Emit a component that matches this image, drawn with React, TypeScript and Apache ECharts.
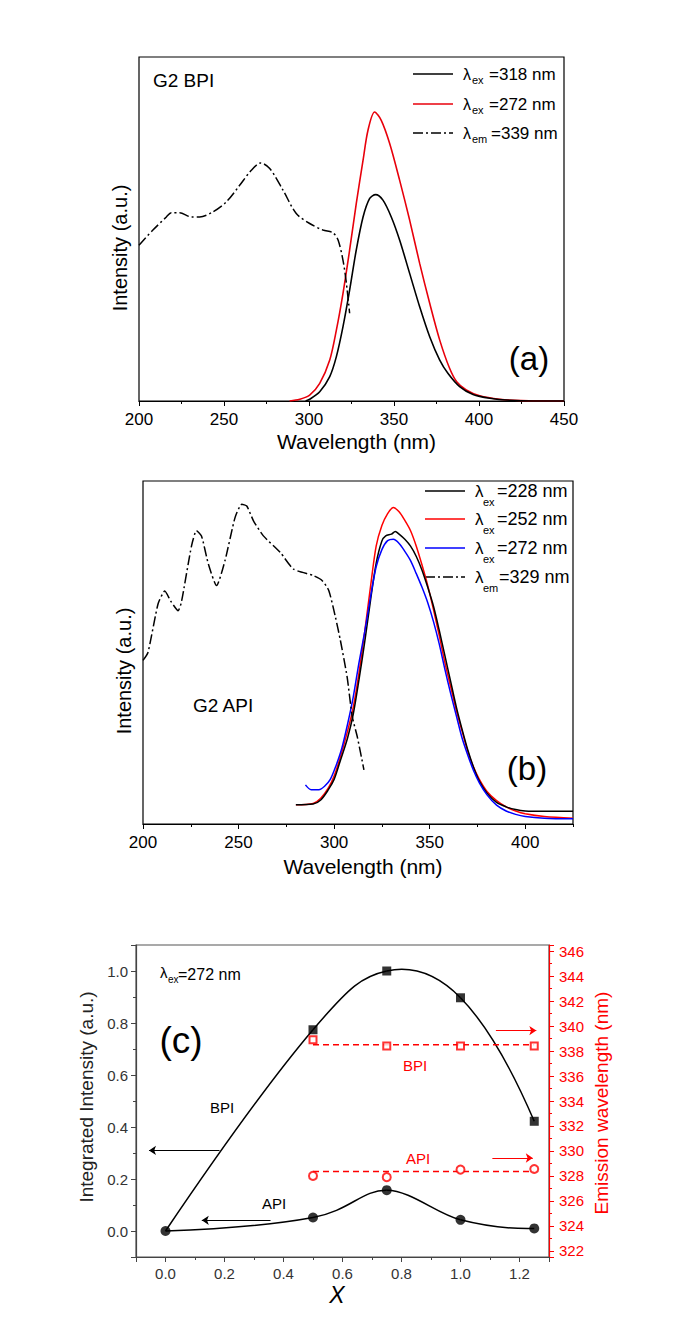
import React, { useEffect, useRef } from "react";
import * as echarts from "echarts";

const FONT = '"Liberation Sans", Arial, Helvetica, sans-serif';

// ---------- Panel (a): G2 BPI ----------
const A_WL_EX318 = [298, 300.4, 306.3, 312.2, 316.1, 320, 323.9, 327.8, 331.8, 335.7, 339.2, 343.5, 348.4, 353.3, 359.2, 365.1, 371, 376.9, 381.8, 388.6, 396.5, 406.3, 418, 431.8, 450];
const A_I_EX318 = [0, 0.005, 0.027, 0.071, 0.129, 0.216, 0.322, 0.439, 0.535, 0.589, 0.6, 0.584, 0.535, 0.468, 0.371, 0.274, 0.187, 0.119, 0.08, 0.042, 0.019, 0.008, 0.002, 0, 0];
const A_WL_EX272 = [288.6, 294.5, 300.4, 306.3, 312.2, 316.1, 320, 323.9, 327.8, 331.8, 334.7, 338.6, 342.5, 347.5, 353.3, 359.2, 365.1, 371, 376.9, 382.7, 387, 392.5, 400.4, 412.2, 425, 450];
const A_I_EX272 = [0, 0.005, 0.017, 0.051, 0.119, 0.206, 0.313, 0.439, 0.574, 0.7, 0.787, 0.84, 0.816, 0.748, 0.642, 0.526, 0.4, 0.284, 0.177, 0.095, 0.055, 0.032, 0.015, 0.005, 0.001, 0];
const A_WL_EM339 = [200, 208.2, 216.1, 219, 223.9, 230.8, 235.7, 243.5, 251.4, 259.2, 266.1, 271.6, 276.9, 284.7, 292.5, 300.4, 308.2, 314.1, 317.1, 320, 322, 323.9];
const A_I_EM339 = [0.453, 0.497, 0.535, 0.547, 0.547, 0.535, 0.535, 0.55, 0.579, 0.627, 0.671, 0.692, 0.676, 0.613, 0.545, 0.516, 0.497, 0.489, 0.468, 0.409, 0.342, 0.255];
const A_TICKS = [200, 250, 300, 350, 400, 450];

// ---------- Panel (b): G2 API ----------
const B_WL_EX228 = [280, 289, 293, 297, 300, 303, 307, 310, 313, 316, 319, 322, 325, 327, 330, 332, 334, 337, 340, 343, 346, 349, 352, 355, 358, 361, 364, 367, 370, 373, 376, 380, 385, 390, 395, 400, 410, 425];
const B_I_EX228 = [0.056, 0.058, 0.07, 0.1, 0.13, 0.18, 0.25, 0.32, 0.42, 0.53, 0.65, 0.76, 0.825, 0.84, 0.845, 0.853, 0.845, 0.83, 0.81, 0.78, 0.74, 0.69, 0.635, 0.565, 0.49, 0.415, 0.34, 0.275, 0.215, 0.165, 0.125, 0.09, 0.063, 0.05, 0.042, 0.038, 0.037, 0.037];
const B_WL_EX252 = [280, 289, 293, 297, 300, 303, 307, 310, 313, 316, 319, 322, 325, 328, 331, 334, 337, 340, 343, 346, 349, 352, 355, 358, 361, 364, 367, 370, 373, 376, 380, 385, 390, 395, 400, 410, 425];
const B_I_EX252 = [0.056, 0.06, 0.075, 0.105, 0.14, 0.19, 0.27, 0.34, 0.44, 0.56, 0.69, 0.81, 0.87, 0.905, 0.923, 0.91, 0.885, 0.855, 0.81, 0.755, 0.695, 0.625, 0.55, 0.47, 0.4, 0.33, 0.27, 0.21, 0.165, 0.13, 0.095, 0.068, 0.05, 0.038, 0.03, 0.022, 0.017];
const B_WL_EX272 = [285, 288, 292, 295, 298, 301, 304, 307, 310, 313, 316, 319, 322, 325, 328, 331, 334, 337, 340, 343, 346, 349, 352, 355, 358, 361, 364, 367, 370, 373, 376, 380, 385, 390, 395, 400, 410, 425];
const B_I_EX272 = [0.114, 0.1, 0.1, 0.11, 0.13, 0.17, 0.22, 0.29, 0.37, 0.47, 0.56, 0.66, 0.75, 0.8, 0.826, 0.83, 0.818, 0.795, 0.768, 0.73, 0.69, 0.645, 0.59, 0.525, 0.45, 0.38, 0.315, 0.25, 0.2, 0.155, 0.12, 0.085, 0.055, 0.038, 0.028, 0.022, 0.017, 0.015];
const B_WL_EM329 = [200, 202.6, 207.9, 211.4, 214.5, 218.4, 220.1, 225.4, 228, 230.6, 234.2, 238.5, 242.9, 248.2, 251.7, 254.3, 257.8, 263, 271.8, 278.8, 289.3, 293.7, 297.2, 300.7, 303.3, 306.8, 309.5, 312.1, 315.6];
const B_I_EM329 = [0.477, 0.5, 0.642, 0.679, 0.65, 0.622, 0.647, 0.811, 0.855, 0.84, 0.758, 0.695, 0.768, 0.894, 0.932, 0.927, 0.884, 0.84, 0.792, 0.743, 0.724, 0.71, 0.681, 0.603, 0.535, 0.429, 0.313, 0.255, 0.158];

// ---------- Panel (c) ----------
const C_X = [0, 0.5, 0.75, 1.0, 1.25];
const C_BPI_INT = [0, 0.774, 1.0, 0.897, 0.422];
const C_API_INT = [0, 0.052, 0.157, 0.043, 0.01];
const C_X_EM = [0.5, 0.75, 1.0, 1.25];
const C_BPI_EM = [338.9, 338.4, 338.4, 338.4];
const C_API_EM = [328.0, 327.9, 328.5, 328.55];
const C_FIT_X = [0.5, 1.25];
const C_BPI_FIT = [338.5, 338.5];
const C_API_FIT = [328.36, 328.36];
const C_ARROW_LEFT = [
  [[0.183, 0.31], [-0.056, 0.31]],
  [[0.356, 0.041], [0.123, 0.041]],
];
const C_ARROW_RIGHT = [
  [[1.12, 339.64], [1.257, 339.64]],
  [[1.108, 329.43], [1.245, 329.43]],
];

const zip = (xs: number[], ys: number[]) => xs.map((x, i) => [x, ys[i]]);

const DASHDOT = [10, 3, 2, 3];

// Cardinal spline (parabolic end conditions) drawn through the data points, in pixel space via the axes
function splineRender(xs: number[], ys: number[]) {
  return (params: any, api: any) => {
    const i = params.dataIndex;
    const n = xs.length;
    if (i >= n - 1) return { type: "group", children: [] };
    const pts = xs.map((x, k) => api.coord([x, ys[k]]));
    const inner = (k: number) => [(pts[k + 1][0] - pts[k - 1][0]) / 2, (pts[k + 1][1] - pts[k - 1][1]) / 2];
    const tan = (k: number): number[] => {
      if (k > 0 && k < n - 1) return inner(k);
      if (k === 0) {
        const t = n > 2 ? inner(1) : [pts[1][0] - pts[0][0], pts[1][1] - pts[0][1]];
        return [2 * (pts[1][0] - pts[0][0]) - t[0], 2 * (pts[1][1] - pts[0][1]) - t[1]];
      }
      const t = n > 2 ? inner(n - 2) : [pts[n - 1][0] - pts[n - 2][0], pts[n - 1][1] - pts[n - 2][1]];
      return [2 * (pts[n - 1][0] - pts[n - 2][0]) - t[0], 2 * (pts[n - 1][1] - pts[n - 2][1]) - t[1]];
    };
    const p1 = pts[i], p2 = pts[i + 1];
    const t1 = tan(i), t2 = tan(i + 1);
    return {
      type: "bezierCurve",
      shape: {
        x1: p1[0], y1: p1[1], x2: p2[0], y2: p2[1],
        cpx1: p1[0] + t1[0] / 3, cpy1: p1[1] + t1[1] / 3,
        cpx2: p2[0] - t2[0] / 3, cpy2: p2[1] - t2[1] / 3,
      },
      style: { stroke: "#000", fill: null, lineWidth: 1.5 },
    };
  };
}

function legendItem(x: number, y: number, color: string, dash: any, sub: string, rest: string, fs: number, subDy: number, subX: number, restX: number) {
  return [
    { type: "line", shape: { x1: x, y1: y, x2: x + 40, y2: y }, style: { stroke: color, lineWidth: 1.6, lineDash: dash } },
    { type: "text", x: x + 50, y, style: { text: "λ", font: `${fs - 1}px ${FONT}`, fill: "#000", verticalAlign: "middle", align: "left" } },
    { type: "text", x: x + subX, y: y + subDy, style: { text: sub, font: `${Math.round(fs * 0.62)}px ${FONT}`, fill: "#000", verticalAlign: "middle", align: "left" } },
    { type: "text", x: x + restX, y, style: { text: rest, font: `${fs}px ${FONT}`, fill: "#000", verticalAlign: "middle", align: "left" } },
  ];
}

function txt(x: number, y: number, text: string, fs: number, opts: any = {}) {
  return {
    type: "text",
    x,
    y,
    rotation: opts.rotation || 0,
    style: {
      text,
      font: `${opts.italic ? "italic " : ""}${fs}px ${FONT}`,
      fill: opts.color || "#000",
      align: opts.align || "left",
      verticalAlign: "middle",
    },
  };
}

export default function App() {
  const ref = useRef<HTMLDivElement>(null);
  useEffect(() => {
    if (!ref.current) return;
    const chart = echarts.init(ref.current, null, { renderer: "svg", width: 682, height: 1338 });

    const baseLabel = { color: "#000", fontFamily: FONT, fontSize: 17 };
    const grey = "#333";

    const even = (step: number) => (v: number) => {
      const k = v / step;
      return Math.abs(k - Math.round(k)) < 1e-6 ? (step < 1 ? v.toFixed(1) : String(Math.round(v))) : "";
    };

    const option: any = {
      animation: false,
      backgroundColor: "#fff",
      grid: [
        { left: 139, top: 57, width: 425, height: 344, show: true, borderColor: "#000", borderWidth: 1.2, backgroundColor: "transparent", containLabel: false, outerBoundsMode: "none" },
        { left: 143, top: 481, width: 430, height: 343, show: true, borderColor: "#000", borderWidth: 1.2, backgroundColor: "transparent", containLabel: false, outerBoundsMode: "none" },
        { left: 136, top: 945, width: 413, height: 312, show: true, borderColor: "#555", borderWidth: 1.2, backgroundColor: "transparent", containLabel: false, outerBoundsMode: "none" },
      ],
      xAxis: [
        {
          type: "value", gridIndex: 0, position: "bottom", min: A_TICKS[0], max: A_TICKS[A_TICKS.length - 1], interval: 50,
          axisLine: { show: true, onZero: false, lineStyle: { color: "#000", width: 1.2 } },
          axisTick: { show: true, inside: false, length: 5, lineStyle: { color: "#000" } },
          minorTick: { show: true, splitNumber: 2, length: 3, lineStyle: { color: "#000" } },
          splitLine: { show: false }, minorSplitLine: { show: false },
          axisLabel: { ...baseLabel, margin: 10 },
          name: "Wavelength (nm)", nameLocation: "middle", nameGap: 30,
          nameTextStyle: { fontFamily: FONT, fontSize: 21, color: "#000", padding: [0, 0, 0, 10] },
        },
        {
          type: "value", gridIndex: 1, position: "bottom", min: 200, max: 425, interval: 50,
          axisLine: { show: true, onZero: false, lineStyle: { color: "#000", width: 1.2 } },
          axisTick: { show: true, inside: false, length: 5, lineStyle: { color: "#000" } },
          splitLine: { show: false },
          axisLabel: { ...baseLabel, margin: 10, showMaxLabel: false },
          name: "Wavelength (nm)", nameLocation: "middle", nameGap: 32,
          nameTextStyle: { fontFamily: FONT, fontSize: 21, color: "#000", padding: [0, 0, 0, 10] },
        },
        {
          type: "value", gridIndex: 1, position: "bottom", min: 200, max: 425, interval: 25,
          axisLine: { show: false, onZero: false },
          axisTick: { show: true, inside: false, length: 3, lineStyle: { color: "#000" } },
          splitLine: { show: false },
          axisLabel: { show: false },
        },
        {
          type: "value", gridIndex: 2, position: "bottom", offset: 0, min: -0.1, max: 1.3, splitNumber: 7,
          axisLine: { show: true, onZero: false, onZeroAxisIndex: 3, lineStyle: { color: "#444", width: 1.2 } },
          axisTick: { show: true, inside: false, length: 5, lineStyle: { color: "#444" } },
          minorTick: { show: true, splitNumber: 2, length: 3, lineStyle: { color: "#444" } },
          splitLine: { show: false }, minorSplitLine: { show: false },
          axisLabel: { color: grey, fontFamily: FONT, fontSize: 15, margin: 9, formatter: even(0.2) },
        },
      ],
      yAxis: [
        { type: "value", gridIndex: 0, min: 0, max: 1, show: false, splitLine: { show: false } },
        { type: "value", gridIndex: 1, min: 0, max: 1, show: false, splitLine: { show: false } },
        {
          type: "value", gridIndex: 2, position: "left", min: -0.1, max: 1.1, splitNumber: 6,
          axisLine: { show: true, onZero: false, lineStyle: { color: "#444", width: 1.2 } },
          axisTick: { show: true, inside: false, length: 5, lineStyle: { color: "#444" } },
          minorTick: { show: true, splitNumber: 2, length: 3, lineStyle: { color: "#444" } },
          splitLine: { show: false }, minorSplitLine: { show: false },
          axisLabel: { color: grey, fontFamily: FONT, fontSize: 15, margin: 8, formatter: even(0.2) },
        },
        {
          type: "value", gridIndex: 2, position: "right", min: 321.5, max: 346.5, splitNumber: 12,
          axisLine: { show: true, onZero: false, lineStyle: { color: "#f00", width: 1.2 } },
          axisTick: { show: true, inside: false, length: 5, lineStyle: { color: "#f00" } },
          minorTick: { show: true, splitNumber: 2, length: 3, lineStyle: { color: "#f00" } },
          splitLine: { show: false }, minorSplitLine: { show: false },
          axisLabel: { color: "#f00", fontFamily: FONT, fontSize: 15, margin: 10, formatter: even(2) },
        },
      ],
      series: [
        // (a)
        { type: "line", xAxisIndex: 0, yAxisIndex: 0, data: zip(A_WL_EX318, A_I_EX318), showSymbol: false, symbol: "none", smooth: 0.3, lineStyle: { color: "#000", width: 1.6 }, z: 3 },
        { type: "line", xAxisIndex: 0, yAxisIndex: 0, data: zip(A_WL_EX272, A_I_EX272), showSymbol: false, symbol: "none", smooth: 0.3, lineStyle: { color: "#e8000b", width: 1.6 }, z: 2 },
        { type: "line", xAxisIndex: 0, yAxisIndex: 0, data: zip(A_WL_EM339, A_I_EM339), showSymbol: false, symbol: "none", smooth: 0.3, lineStyle: { color: "#000", width: 1.5, type: DASHDOT }, z: 4 },
        // (b)
        { type: "line", xAxisIndex: 1, yAxisIndex: 1, data: zip(B_WL_EX228, B_I_EX228), showSymbol: false, symbol: "none", smooth: 0.3, lineStyle: { color: "#000", width: 1.5 }, z: 3 },
        { type: "line", xAxisIndex: 1, yAxisIndex: 1, data: zip(B_WL_EX252, B_I_EX252), showSymbol: false, symbol: "none", smooth: 0.3, lineStyle: { color: "#f00", width: 1.5 }, z: 2 },
        { type: "line", xAxisIndex: 1, yAxisIndex: 1, data: zip(B_WL_EX272, B_I_EX272), showSymbol: false, symbol: "none", smooth: 0.3, lineStyle: { color: "#0000ff", width: 1.5 }, z: 4 },
        { type: "line", xAxisIndex: 1, yAxisIndex: 1, data: zip(B_WL_EM329, B_I_EM329), showSymbol: false, symbol: "none", smooth: 0.2, lineStyle: { color: "#000", width: 1.5, type: DASHDOT }, z: 5 },
        // (c) curves through the points
        { type: "custom", xAxisIndex: 3, yAxisIndex: 2, data: zip(C_X, C_BPI_INT), encode: { x: 0, y: 1 }, renderItem: splineRender(C_X, C_BPI_INT), z: 2 },
        { type: "custom", xAxisIndex: 3, yAxisIndex: 2, data: zip(C_X, C_API_INT), encode: { x: 0, y: 1 }, renderItem: splineRender(C_X, C_API_INT), z: 2 },
        { type: "scatter", xAxisIndex: 3, yAxisIndex: 2, data: zip(C_X, C_BPI_INT).slice(1), symbol: "rect", symbolSize: 9, itemStyle: { color: "#000" }, z: 4 },
        { type: "scatter", xAxisIndex: 3, yAxisIndex: 2, data: zip(C_X, C_API_INT), symbol: "circle", symbolSize: 10, itemStyle: { color: "#000" }, z: 4 },
        { type: "line", xAxisIndex: 3, yAxisIndex: 3, data: zip(C_FIT_X, C_BPI_FIT), symbol: "none", lineStyle: { color: "#f00", width: 1.5, type: [6, 4] }, z: 2 },
        { type: "line", xAxisIndex: 3, yAxisIndex: 3, data: zip(C_FIT_X, C_API_FIT), symbol: "none", lineStyle: { color: "#f00", width: 1.5, type: [6, 4] }, z: 2 },
        { type: "scatter", xAxisIndex: 3, yAxisIndex: 3, data: zip(C_X_EM, C_BPI_EM), symbol: "emptyRect", symbolSize: 7, itemStyle: { color: "#f00", borderColor: "#f00", borderWidth: 1.6 }, z: 4 },
        { type: "scatter", xAxisIndex: 3, yAxisIndex: 3, data: zip(C_X_EM, C_API_EM), symbol: "emptyCircle", symbolSize: 8, itemStyle: { color: "#f00", borderColor: "#f00", borderWidth: 1.6 }, z: 4 },
        {
          type: "lines", coordinateSystem: "cartesian2d", xAxisIndex: 3, yAxisIndex: 2,
          symbol: ["none", "arrow"], symbolSize: 7,
          lineStyle: { color: "#000", width: 1.2, opacity: 1 },
          data: C_ARROW_LEFT.map((c) => ({ coords: c })), z: 5,
        },
        {
          type: "lines", coordinateSystem: "cartesian2d", xAxisIndex: 3, yAxisIndex: 3,
          symbol: ["none", "arrow"], symbolSize: 7,
          lineStyle: { color: "#f00", width: 1.2, opacity: 1 },
          data: C_ARROW_RIGHT.map((c) => ({ coords: c })), z: 5,
        },
      ],
      graphic: [
        // (a)
        txt(153, 80, "G2 BPI", 19),
        txt(529, 358, "(a)", 33, { align: "center" }),
        txt(120, 248, "Intensity (a.u.)", 20, { align: "center", rotation: Math.PI / 2 }),
        ...legendItem(413, 74, "#000", null, "ex", "=318 nm", 17, 6, 59, 76),
        ...legendItem(413, 104, "#e8000b", null, "ex", "=272 nm", 17, 6, 59, 76),
        ...legendItem(413, 133, "#000", DASHDOT, "em", "=339 nm", 17, 6, 59, 78),
        // (b)
        txt(193, 705, "G2 API", 19),
        txt(527, 768, "(b)", 33, { align: "center" }),
        txt(124, 671, "Intensity (a.u.)", 20, { align: "center", rotation: Math.PI / 2 }),
        ...legendItem(425, 491, "#000", null, "ex", "=228 nm", 18, 11, 58, 72),
        ...legendItem(425, 519, "#f00", null, "ex", "=252 nm", 18, 11, 58, 72),
        ...legendItem(425, 548, "#0000ff", null, "ex", "=272 nm", 18, 11, 58, 72),
        ...legendItem(425, 577, "#000", DASHDOT, "em", "=329 nm", 18, 11, 58, 74),
        // (c)
        txt(160, 972, "λ", 15),
        txt(168, 979, "ex", 10),
        txt(178, 974, "=272 nm", 16),
        txt(181, 1040, "(c)", 37, { align: "center" }),
        txt(222, 1107, "BPI", 15, { align: "center" }),
        txt(274, 1203, "API", 15, { align: "center" }),
        txt(415, 1065, "BPI", 15, { align: "center", color: "#f00" }),
        txt(418, 1158, "API", 15, { align: "center", color: "#f00" }),
        txt(86, 1097, "Integrated Intensity (a.u.)", 19, { align: "center", rotation: Math.PI / 2, color: "#222" }),
        txt(601, 1103, "Emission wavelength (nm)", 19, { align: "center", rotation: Math.PI / 2, color: "#f00" }),
        txt(337, 1295, "X", 23, { align: "center", italic: true }),
      ],
    };

    chart.setOption(option);
    return () => chart.dispose();
  }, []);

  return (
    <div
      ref={ref}
      style={{ position: "absolute", left: 0, top: 0, width: 682, height: 1338, background: "#fff" }}
    />
  );
}
